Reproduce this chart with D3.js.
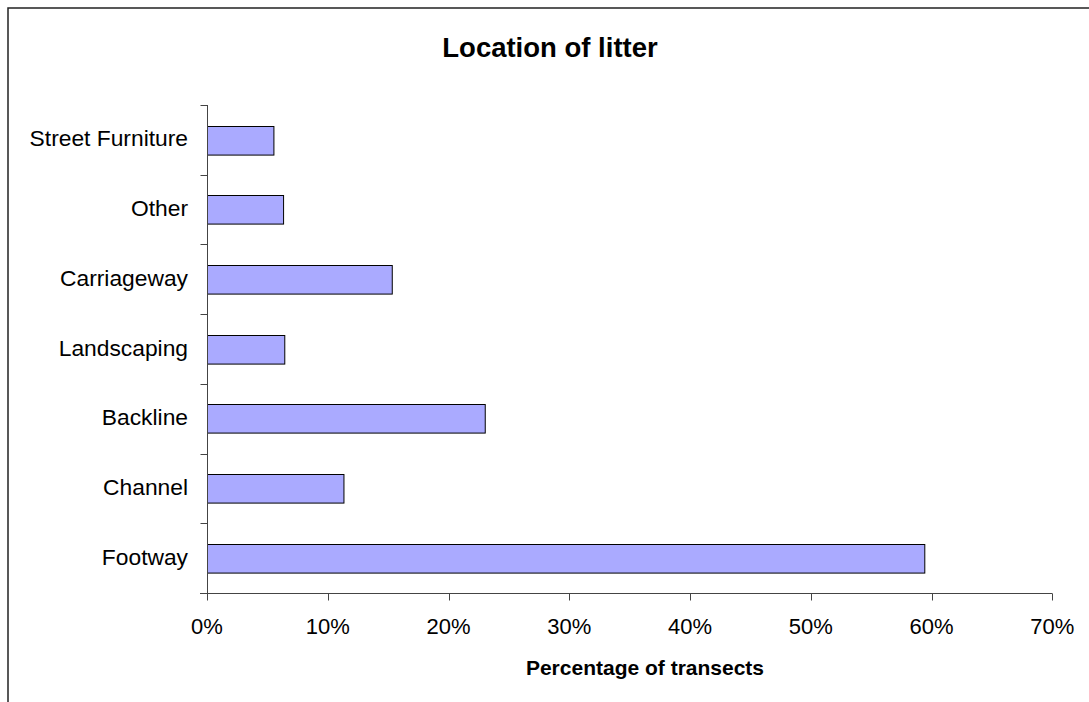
<!DOCTYPE html>
<html><head><meta charset="utf-8">
<script src="https://cdn.jsdelivr.net/npm/d3@7"></script>
<style>body{margin:0;background:#fff}svg{display:block;font-family:"Liberation Sans",Arial,sans-serif}</style>
</head><body>
<svg id="c" width="1089" height="702"></svg>
<script>
const categories = ["Street Furniture","Other","Carriageway","Landscaping","Backline","Channel","Footway"];
const values = [5.5, 6.3, 15.3, 6.4, 23.0, 11.3, 59.4];
const xTicks = [0,10,20,30,40,50,60,70];
const title = "Location of litter";
const xTitle = "Percentage of transects";

const svg = d3.select("#c");
svg.append("rect").attr("x",8).attr("y",8).attr("width",1200).attr("height",800)
  .attr("fill","#fff").attr("stroke","#222").attr("stroke-width",1.5);

const x = d3.scaleLinear().domain([0,70]).range([207,1052.3]);
const y = d3.scaleBand().domain(categories).range([105,593]).paddingInner(0.59).paddingOuter(0.295);

svg.append("g").selectAll("rect").data(categories).join("rect")
  .attr("x", x(0)+0.5).attr("y", d=>Math.round(y(d))+0.5)
  .attr("width", (d,i)=>x(values[i])-x(0)).attr("height", y.bandwidth())
  .attr("fill","#AAAAFF").attr("stroke","#000").attr("stroke-width",1);

// y axis
const ya = svg.append("g").attr("transform","translate(207.5,0)");
ya.append("line").attr("y1",105).attr("y2",593).attr("stroke","#444");
const bounds = d3.range(categories.length+1).map(i=>105+i*y.step());
ya.selectAll("line.t").data(bounds).join("line").attr("class","t")
  .attr("x1",-7).attr("x2",0).attr("y1",d=>Math.round(d)+0.5).attr("y2",d=>Math.round(d)+0.5).attr("stroke","#444");
svg.append("g").selectAll("text").data(categories).join("text")
  .attr("x",188).attr("y",d=>y(d)+y.bandwidth()/2+6.5)
  .attr("text-anchor","end").attr("font-size",22.8).attr("fill","#000").text(d=>d);

// x axis
const xa = svg.append("g").attr("transform","translate(0,593.5)");
xa.append("line").attr("x1",200).attr("x2",x(70)).attr("stroke","#444");
xa.selectAll("line.t").data(xTicks).join("line").attr("class","t")
  .attr("x1",d=>Math.round(x(d))+0.5).attr("x2",d=>Math.round(x(d))+0.5).attr("y1",0).attr("y2",7).attr("stroke","#444");
xa.selectAll("text").data(xTicks).join("text")
  .attr("x",d=>x(d)).attr("y",40).attr("text-anchor","middle").attr("font-size",22).text(d=>d+"%");

svg.append("text").attr("x",550).attr("y",57).attr("text-anchor","middle")
  .attr("font-size",27.5).attr("font-weight","bold").text(title);
svg.append("text").attr("x",645).attr("y",675).attr("text-anchor","middle")
  .attr("font-size",21).attr("font-weight","bold").text(xTitle);
</script>
</body></html>
